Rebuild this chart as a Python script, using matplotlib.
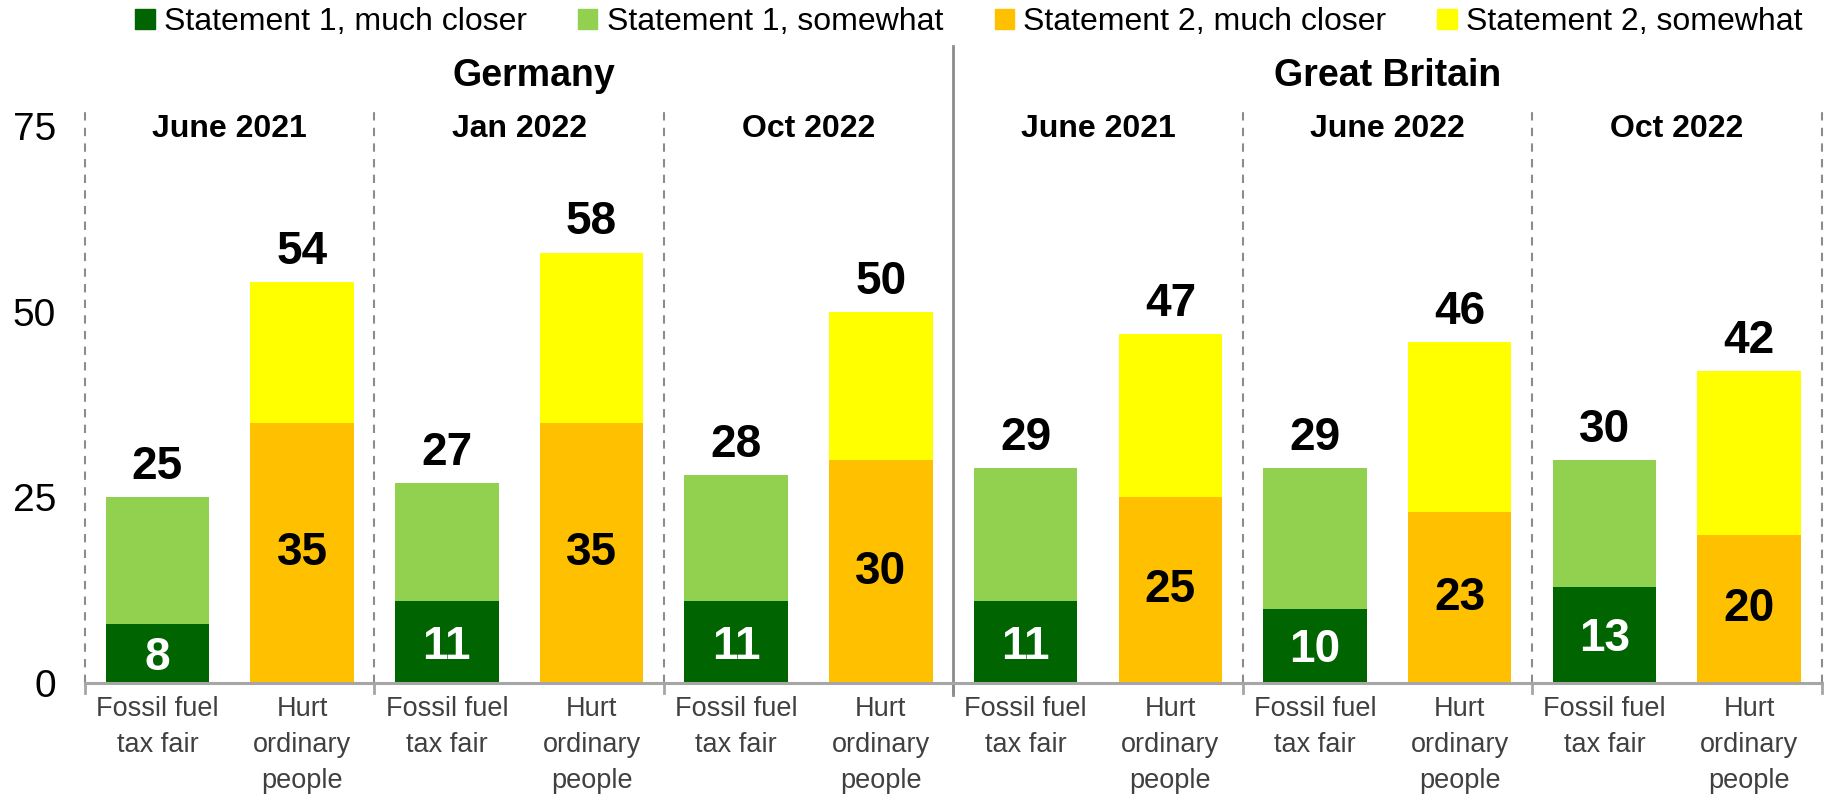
import matplotlib
matplotlib.use("Agg")
import matplotlib.pyplot as plt
from matplotlib.patches import Patch
import numpy as np

plt.rcParams['font.family'] = ['Liberation Sans', 'DejaVu Sans']

# ---- data ------------------------------------------------------------------
countries = ["Germany", "Great Britain"]
waves = ["June 2021", "Jan 2022", "Oct 2022", "June 2021", "June 2022", "Oct 2022"]
statements = ["Fossil fuel\ntax fair", "Hurt\nordinary\npeople"]

# per wave: statement 1 (fossil fuel tax fair) and statement 2 (hurt ordinary people)
s1_much     = [8, 11, 11, 11, 10, 13]
s1_somewhat = [17, 16, 17, 18, 19, 17]
s2_much     = [35, 35, 30, 25, 23, 20]
s2_somewhat = [19, 23, 20, 22, 23, 22]
totals_s1 = [25, 27, 28, 29, 29, 30]
totals_s2 = [54, 58, 50, 47, 46, 42]

series_names = ["Statement 1, much closer", "Statement 1, somewhat",
                "Statement 2, much closer", "Statement 2, somewhat"]
colors = ["#006400", "#92D050", "#FFC000", "#FFFF00"]

# ---- layout ----------------------------------------------------------------
n = len(waves)
x1 = np.arange(n) * 2          # statement 1 bars
x2 = np.arange(n) * 2 + 1      # statement 2 bars
bw = 0.715

fig = plt.figure(figsize=(18.25, 7.97), dpi=100)
ax = fig.add_axes([0.0466, 0.143, 0.9515, 0.719])

ax.bar(x1, s1_much, bw, color=colors[0])
ax.bar(x1, s1_somewhat, bw, bottom=s1_much, color=colors[1])
ax.bar(x2, s2_much, bw, color=colors[2])
ax.bar(x2, s2_somewhat, bw, bottom=s2_much, color=colors[3])

# value labels inside the "much closer" segments
for xi, v in zip(x1, s1_much):
    ax.text(xi, v / 2 - 0.6, str(v), ha="center", va="center",
            fontsize=33, fontweight="bold", color="white")
for xi, v in zip(x2, s2_much):
    ax.text(xi, v / 2, str(v), ha="center", va="center",
            fontsize=33, fontweight="bold", color="black")

# totals on top
for xs, tots in ((x1, totals_s1), (x2, totals_s2)):
    for xi, t in zip(xs, tots):
        ax.annotate(str(t), (xi, t), xytext=(0, 13), textcoords="offset points",
                    ha="center", va="baseline", fontsize=33, fontweight="bold")

ax.set_xlim(-0.5, 2 * n - 0.5)
ax.set_ylim(0, 77.2)
ax.set_yticks([0, 25, 50, 75])
ax.tick_params(axis="y", length=0, labelsize=28, pad=21)

ax.set_xticks(np.arange(2 * n))
ax.set_xticklabels(statements * n, fontsize=19.5, color="#404040", linespacing=1.52)
ax.tick_params(axis="x", length=0, pad=9)

for sp in ("top", "right", "left"):
    ax.spines[sp].set_visible(False)
ax.spines["bottom"].set_color("#a6a6a6")
ax.spines["bottom"].set_linewidth(2.2)

# wave separators (dashed) and the country separator (solid)
bounds = np.arange(0, 2 * n + 1, 2) - 0.5
for b in bounds:
    ax.plot([b, b], [0, -1.3], color="#a6a6a6", lw=2, clip_on=False)
    if b == n - 0.5:
        continue
    ax.plot([b, b], [0, 77.2], color="#8c8c8c", lw=1.5, ls=(0, (4, 3.5)), clip_on=False)
ax.plot([n - 0.5, n - 0.5], [-1.6, 85.8], color="#8c8c8c", lw=2, clip_on=False)

# wave and country headers
for i, w in enumerate(waves):
    ax.text(2 * i + 0.5, 74.6, w, ha="center", va="center",
            fontsize=23, fontweight="bold")
ax.text(2.6, 81.8, countries[0], ha="center", va="center", fontsize=27, fontweight="bold")
ax.text(8.5, 81.8, countries[1], ha="center", va="center", fontsize=27, fontweight="bold")

handles = [Patch(color=c, label=s) for c, s in zip(colors, series_names)]
fig.legend(handles=handles, loc="center", bbox_to_anchor=(0.531, 0.972), ncol=4,
           frameon=False, fontsize=23, handlelength=0.6, handleheight=0.6,
           handletextpad=0.3, columnspacing=1.6, borderaxespad=0)

fig.savefig("out.png", dpi=100)
